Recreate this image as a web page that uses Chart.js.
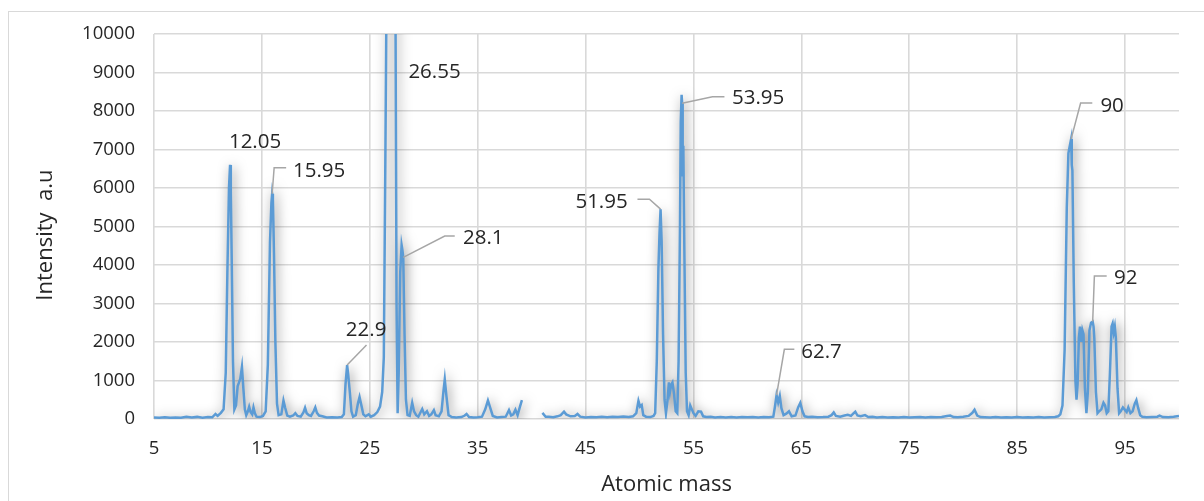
<!DOCTYPE html>
<html>
<head>
<meta charset="utf-8">
<script src="https://cdn.jsdelivr.net/npm/chart.js@4.4.1/dist/chart.umd.min.js"></script>
<style>
  html, body { margin: 0; padding: 0; background: #ffffff; }
  #wrap { position: relative; width: 1204px; height: 501px; overflow: hidden; }
  #frame { position: absolute; left: 8px; top: 11px; width: 1300px; height: 600px; border: 1px solid #d9d9d9; box-sizing: border-box; }
  canvas { position: absolute; left: 0; top: 0; }
</style>
</head>
<body>
<div id="wrap">
  <div id="frame"></div>
  <canvas id="spectrum" width="1204" height="501"></canvas>
</div>
<script>
// Mass spectrum: atomic mass (x) vs. intensity in arbitrary units (y)
const massValues = [
  5.0, 5.5, 6.0, 6.5, 7.0, 7.5, 8.0, 8.5, 9.0, 9.5, 10.0, 10.4, 10.7, 10.9, 11.2, 11.45,
  11.65, 11.8, 11.95, 12.05, 12.12, 12.2, 12.32, 12.45, 12.6, 12.75, 12.88, 13.0, 13.15, 13.28, 13.42, 13.55,
  13.7, 13.82, 13.95, 14.1, 14.22, 14.35, 14.5, 14.8, 15.1, 15.35, 15.55, 15.75, 15.88, 15.95, 16.02, 16.12,
  16.25, 16.4, 16.55, 16.8, 17.0, 17.15, 17.35, 17.6, 17.9, 18.1, 18.3, 18.6, 18.85, 19.0, 19.15, 19.35,
  19.55, 19.8, 19.95, 20.1, 20.3, 20.6, 21.0, 21.5, 22.0, 22.4, 22.6, 22.75, 22.9, 23.0, 23.15, 23.3,
  23.45, 23.7, 23.9, 24.05, 24.2, 24.4, 24.6, 24.9, 25.1, 25.4, 25.7, 25.95, 26.15, 26.3, 26.45, 26.55,
  26.75, 27.0, 27.2, 27.38, 27.48, 27.58, 27.68, 27.82, 27.95, 28.02, 28.1, 28.22, 28.35, 28.5, 28.7, 28.93,
  29.1, 29.3, 29.5, 29.86, 30.05, 30.3, 30.5, 30.7, 30.94, 31.1, 31.4, 31.65, 31.82, 31.95, 32.1, 32.3,
  32.6, 33.0, 33.5, 33.8, 33.97, 34.2, 34.6, 35.0, 35.4, 35.7, 35.95, 36.15, 36.4, 36.8, 37.2, 37.6,
  37.9, 38.1, 38.3, 38.5, 38.7, 38.9, 39.1, 40.0, 41.0, 41.3, 41.6, 42.0, 42.4, 42.7, 43.0, 43.2,
  43.6, 44.0, 44.25, 44.5, 45.0, 45.5, 46.0, 46.5, 47.0, 47.5, 48.0, 48.5, 49.0, 49.4, 49.7, 49.9,
  50.05, 50.2, 50.35, 50.6, 51.0, 51.3, 51.45, 51.6, 51.75, 51.85, 51.95, 52.05, 52.18, 52.32, 52.45, 52.6,
  52.72, 52.82, 52.95, 53.05, 53.2, 53.35, 53.5, 53.62, 53.75, 53.82, 53.9, 53.95, 54.0, 54.06, 54.15, 54.28,
  54.4, 54.55, 54.7, 54.85, 55.0, 55.2, 55.45, 55.7, 55.9, 56.2, 56.6, 57.0, 57.5, 58.0, 58.5, 59.0,
  59.5, 60.0, 60.5, 61.0, 61.5, 62.0, 62.4, 62.55, 62.7, 62.85, 63.0, 63.15, 63.35, 63.6, 63.85, 64.1,
  64.45, 64.7, 64.9, 65.1, 65.3, 65.6, 66.0, 66.5, 67.0, 67.5, 67.8, 68.0, 68.2, 68.6, 69.0, 69.3,
  69.6, 69.85, 70.0, 70.2, 70.5, 70.9, 71.2, 71.6, 72.0, 72.5, 73.0, 73.5, 74.0, 74.5, 75.0, 75.5,
  76.0, 76.5, 77.0, 77.5, 78.0, 78.5, 78.8, 79.1, 79.5, 80.0, 80.5, 80.85, 81.05, 81.3, 81.6, 82.0,
  82.5, 83.0, 83.5, 84.0, 84.5, 85.0, 85.5, 86.0, 86.5, 87.0, 87.5, 88.0, 88.5, 88.8, 89.0, 89.2,
  89.4, 89.6, 89.75, 89.85, 90.0, 90.06, 90.12, 90.25, 90.4, 90.5, 90.6, 90.72, 90.82, 90.95, 91.05, 91.15,
  91.28, 91.42, 91.55, 91.7, 91.85, 92.0, 92.08, 92.15, 92.3, 92.45, 92.6, 92.8, 93.0, 93.15, 93.3, 93.45,
  93.6, 93.75, 93.85, 93.95, 94.05, 94.15, 94.3, 94.45, 94.6, 94.8, 94.95, 95.15, 95.3, 95.5, 95.7, 95.9,
  96.05, 96.2, 96.4, 96.6, 97.0, 97.5, 98.0, 98.2, 98.5, 99.0, 99.5, 100.0
];

const intensityValues = [
  40, 35, 45, 30, 40, 35, 60, 40, 55, 35, 50, 45, 130, 80, 160, 250,
  1200, 3800, 6000, 6600, 5900, 4200, 1500, 250, 350, 850, 950, 1050, 1350, 800, 250, 100,
  200, 320, 180, 120, 300, 150, 60, 50, 80, 200, 1400, 4600, 5600, 5850, 5700, 4300,
  2000, 400, 100, 120, 480, 300, 90, 60, 90, 150, 80, 60, 170, 290, 150, 100,
  80, 200, 300, 160, 90, 70, 40, 45, 40, 50, 120, 900, 1400, 1150, 700, 200,
  60, 100, 400, 570, 380, 120, 70, 120, 60, 100, 180, 320, 700, 1600, 7000, 11000,
  17000, 19000, 16000, 10800, 3000, 150, 1200, 3800, 4520, 4400, 4200, 2200, 500, 100, 80, 420,
  200, 100, 60, 260, 120, 200, 80, 120, 230, 100, 70, 200, 700, 1030, 600, 100,
  50, 40, 50, 90, 130, 50, 40, 45, 60, 250, 480, 300, 80, 40, 50, 60,
  230, 90, 120, 240, 100, 300, 490, null, 160, 60, 60, 45, 70, 100, 190, 120,
  70, 80, 130, 60, 40, 55, 45, 60, 45, 60, 50, 65, 50, 70, 150, 470,
  320, 360, 100, 60, 50, 80, 150, 1500, 3900, 4800, 5450, 4600, 2200, 500, 150, 500,
  950, 700, 900, 950, 650, 200, 150, 1500, 5000, 7700, 8420, 8200, 6300, 7100, 4500, 1200,
  200, 100, 350, 250, 150, 80, 200, 190, 70, 50, 60, 40, 50, 40, 55, 40,
  50, 45, 55, 40, 50, 45, 60, 320, 620, 430, 600, 280, 100, 140, 200, 70,
  90, 300, 420, 200, 70, 50, 60, 45, 50, 60, 100, 170, 80, 60, 90, 110,
  80, 150, 190, 90, 70, 100, 50, 60, 40, 50, 40, 45, 40, 50, 40, 45,
  50, 40, 55, 45, 50, 80, 90, 50, 45, 60, 80, 160, 240, 90, 50, 45,
  40, 50, 40, 45, 40, 50, 40, 45, 40, 50, 40, 45, 50, 70, 120, 350,
  1800, 5500, 6900, 7050, 7270, 6600, 6450, 3500, 1000, 500, 900, 2100, 2400, 2000, 2300, 2200,
  800, 150, 700, 2300, 2500, 2530, 2400, 2100, 700, 150, 200, 250, 420, 350, 150, 200,
  1200, 2400, 2480, 2250, 2400, 2100, 800, 150, 200, 300, 250, 180, 300, 150, 200, 400,
  490, 300, 100, 60, 45, 55, 60, 90, 50, 45, 60, 80
];

const massTicks = [5, 15, 25, 35, 45, 55, 65, 75, 85, 95];
const intensityTicks = [0, 1000, 2000, 3000, 4000, 5000, 6000, 7000, 8000, 9000, 10000];

// Peak masses that carry a data label
const labelledMasses = [12.05, 15.95, 26.55, 28.1, 22.9, 32, 51.95, 53.95, 62.7, 90, 92];

// Label placement: text centre offset from the point and leader-line vertices (px, relative to the point)
const labelPlacement = {
  '12.05': { dx: 25, dy: -23, leader: [] },
  '15.95': { dx: 47, dy: -23, leader: [[0, 0], [2, -26], [14, -26]] },
  '26.55': { dx: 48, dy: 38, leader: [], clampTop: true },
  '28.1':  { dx: 80, dy: -19, leader: [[0, 0], [41.5, -21.3], [51.5, -21.3]] },
  '22.9':  { dx: 19, dy: -35, leader: [[0, 0], [19.4, -20]] },
  '32':    { dx: 48, dy: -28, leader: [[0, 0], [17.4, -32.3], [29.4, -32.3]] },
  '51.95': { dx: -59, dy: -7.5, leader: [[0, 0], [-11.1, -10], [-23.1, -10]] },
  '53.95': { dx: 76, dy: -5, leader: [[0, 0], [30.3, -6.6], [42.3, -6.6]] },
  '62.7':  { dx: 45, dy: -43.4, leader: [[0, 0], [7.8, -45.8], [17.8, -45.8]] },
  '90':    { dx: 41, dy: -33.3, leader: [[0, 0], [9.5, -36], [21.2, -36]] },
  '92':    { dx: 33, dy: -43, leader: [[0, 0], [1.7, -45.6], [14, -45.6]] }
};

const points = massValues.map((m, i) => ({ x: m, y: intensityValues[i] }));

const FONT = "'Open Sans', 'Noto Sans', sans-serif";
const TEXT_COLOR = '#262626';
const GRID_COLOR = '#d9d9d9';

// Soft drop shadow under the spectrum line
const lineShadow = {
  id: 'lineShadow',
  beforeDatasetDraw(chart) {
    const ctx = chart.ctx;
    ctx.save();
    ctx.shadowColor = 'rgba(0, 0, 0, 0.5)';
    ctx.shadowBlur = 12;
    ctx.shadowOffsetX = 2;
    ctx.shadowOffsetY = 2;
  },
  afterDatasetDraw(chart) {
    chart.ctx.restore();
  }
};

// Peak labels with grey leader lines
const peakLabels = {
  id: 'peakLabels',
  afterDatasetsDraw(chart) {
    const ctx = chart.ctx;
    const xs = chart.scales.x;
    const ys = chart.scales.y;
    const area = chart.chartArea;
    ctx.save();
    labelledMasses.forEach((mass) => {
      const idx = massValues.indexOf(mass);
      if (idx < 0) return;
      const place = labelPlacement[String(mass)];
      const px = xs.getPixelForValue(mass);
      let py = ys.getPixelForValue(intensityValues[idx]);
      if (place.clampTop) py = Math.max(py, area.top);
      if (place.leader.length > 1) {
        ctx.beginPath();
        ctx.strokeStyle = '#a6a6a6';
        ctx.lineWidth = 1.5;
        place.leader.forEach(([lx, ly], k) => {
          if (k === 0) ctx.moveTo(px + lx, py + ly);
          else ctx.lineTo(px + lx, py + ly);
        });
        ctx.stroke();
      }
      ctx.fillStyle = TEXT_COLOR;
      ctx.font = `20.5px ${FONT}`;
      ctx.textAlign = 'center';
      ctx.textBaseline = 'middle';
      ctx.fillText(String(mass), px + place.dx, py + place.dy);
    });
    ctx.restore();
  }
};

new Chart(document.getElementById('spectrum'), {
  type: 'line',
  data: {
    datasets: [{
      data: points,
      borderColor: '#5b9bd5',
      borderWidth: 2.5,
      pointRadius: 0,
      tension: 0,
      spanGaps: false,
      fill: false
    }]
  },
  options: {
    responsive: false,
    animation: false,
    devicePixelRatio: 1,
    layout: { padding: { left: 0, top: 34, right: 25, bottom: 0 } },
    plugins: { legend: { display: false }, tooltip: { enabled: false } },
    scales: {
      x: {
        type: 'linear',
        min: 5,
        max: 100,
        afterBuildTicks(scale) { scale.ticks = massTicks.map(v => ({ value: v })); },
        afterFit(scale) { scale.height = 82; },
        grid: { color: GRID_COLOR, lineWidth: 1.6, drawTicks: false },
        border: { display: false },
        ticks: { padding: 19, color: TEXT_COLOR, font: { family: FONT, size: 18.5 }, callback: (v) => String(v) },
        title: { display: true, text: 'Atomic mass', color: TEXT_COLOR, font: { family: FONT, size: 22 }, padding: { top: 0, bottom: 3 } }
      },
      y: {
        min: 0,
        max: 10000,
        afterBuildTicks(scale) { scale.ticks = intensityTicks.map(v => ({ value: v })); },
        afterFit(scale) { scale.width = 154; },
        grid: { color: GRID_COLOR, lineWidth: 1.6, drawTicks: false },
        border: { display: false },
        ticks: { padding: 19, color: TEXT_COLOR, font: { family: FONT, size: 18.5 }, callback: (v) => String(v) },
        title: { display: true, text: 'Intensity  a.u   ', color: TEXT_COLOR, font: { family: FONT, size: 22 }, padding: { top: 33, bottom: 0 } }
      }
    }
  },
  plugins: [lineShadow, peakLabels]
});
</script>
</body>
</html>
